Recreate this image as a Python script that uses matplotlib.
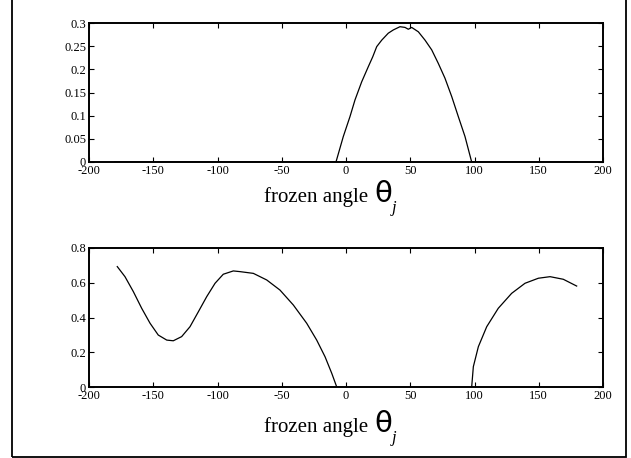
import numpy as np
import matplotlib
matplotlib.use("Agg")
import matplotlib.pyplot as plt
from matplotlib.patches import Rectangle

# Top panel: single hump
top_x = [-180, -7.8, -2.1, 3.1, 7.0, 12.2, 17.4, 20.8, 23.9, 27.8, 32.9, 36.8,
         42.0, 45.9, 48.5, 51.1, 56.3, 61.5, 66.7, 71.8, 77.0, 82.3, 87.4, 92.6,
         97.8, 180]
top_y = [0, 0, 0.055, 0.098, 0.134, 0.173, 0.206, 0.227, 0.249, 0.263, 0.278,
         0.285, 0.292, 0.2905, 0.2865, 0.2905, 0.281, 0.263, 0.242, 0.213, 0.181,
         0.141, 0.098, 0.055, 0, 0]

# Bottom panel: two branches
bot1_x = [-178.0, -172.0, -165.5, -159.0, -152.5, -146.1, -139.5, -134.4, -127.9,
          -121.4, -114.9, -108.4, -101.9, -95.5, -87.7, -82.5, -72.1, -61.7,
          -51.4, -41.0, -30.6, -22.8, -16.3, -11.1, -7.2]
bot1_y = [0.693, 0.635, 0.549, 0.453, 0.367, 0.299, 0.270, 0.266, 0.290,
          0.347, 0.433, 0.520, 0.597, 0.649, 0.668, 0.664, 0.654, 0.616,
          0.558, 0.472, 0.367, 0.270, 0.174, 0.079, 0.0]
bot2_x = [97.8, 99.1, 103.0, 109.5, 118.5, 128.9, 139.3, 149.7, 158.8, 169.1, 179.5]
bot2_y = [0.0, 0.117, 0.232, 0.347, 0.453, 0.539, 0.597, 0.626, 0.635, 0.620, 0.581]

xticks = [-200, -150, -100, -50, 0, 50, 100, 150, 200]
top_yticks = [0, 0.05, 0.1, 0.15, 0.2, 0.25, 0.3]
bot_yticks = [0, 0.2, 0.4, 0.6, 0.8]

plt.rcParams['font.family'] = ['Liberation Serif', 'DejaVu Serif']

fig = plt.figure(figsize=(6.31, 4.58), dpi=100)

W, H = 631.0, 458.0


def make_axes(top_px, bot_px):
    ax = fig.add_axes([89 / W, 1 - bot_px / H, (603 - 89) / W, (bot_px - top_px) / H])
    for s in ax.spines.values():
        s.set_linewidth(1.4)
    ax.tick_params(direction='in', top=True, right=True, length=3.5, width=0.8,
                   labelsize=9, pad=2)
    ax.set_xlim(-200, 200)
    ax.set_xticks(xticks)
    ax.set_xticklabels([str(t) for t in xticks])
    return ax


def add_label(base_px):
    y = 1 - base_px / H
    fig.text(368 / W, y, 'frozen angle', ha='right', va='baseline', fontsize=15)
    fig.text(374 / W, y, '\u03b8', ha='left', va='baseline', fontsize=21,
             family='DejaVu Sans')
    fig.text(392 / W, y - 10 / H, 'j', ha='left', va='baseline', fontsize=12,
             style='italic')


ax1 = make_axes(23, 162)
ax1.plot(top_x, top_y, color='black', lw=0.9)
ax1.set_ylim(0, 0.3)
ax1.set_yticks(top_yticks)
ax1.set_yticklabels(['0', '0.05', '0.1', '0.15', '0.2', '0.25', '0.3'])
add_label(201.7)

ax2 = make_axes(248, 387)
ax2.plot(bot1_x, bot1_y, color='black', lw=0.9)
ax2.plot(bot2_x, bot2_y, color='black', lw=0.9)
ax2.set_ylim(0, 0.8)
ax2.set_yticks(bot_yticks)
ax2.set_yticklabels(['0', '0.2', '0.4', '0.6', '0.8'])
add_label(431.7)

# outer frame
fig.patches.append(Rectangle((11.5 / W, 1 / H), (625.5 - 11.5) / W, 1.2,
                             transform=fig.transFigure, fill=False,
                             edgecolor='black', lw=1.3, clip_on=False))

fig.savefig('out.png', dpi=100)
